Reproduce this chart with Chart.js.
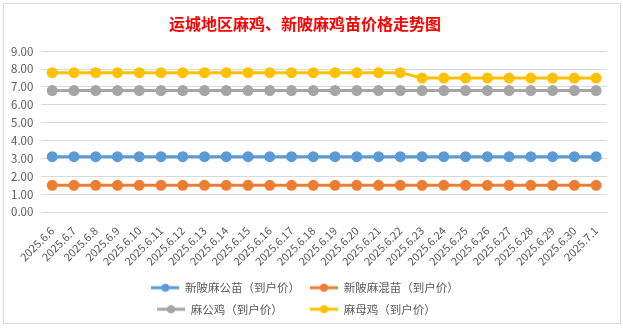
<!DOCTYPE html>
<html><head><meta charset="utf-8">
<script src="https://cdn.jsdelivr.net/npm/chart.js@4"></script>
<style>html,body{margin:0;padding:0;background:#fff;}#wrap{width:623px;height:330px;position:relative;}</style>
</head><body><div id="wrap"><canvas id="c" width="623" height="330"></canvas></div>
<script>
const categories = ["2025.6.6","2025.6.7","2025.6.8","2025.6.9","2025.6.10","2025.6.11","2025.6.12","2025.6.13","2025.6.14","2025.6.15","2025.6.16","2025.6.17","2025.6.18","2025.6.19","2025.6.20","2025.6.21","2025.6.22","2025.6.23","2025.6.24","2025.6.25","2025.6.26","2025.6.27","2025.6.28","2025.6.29","2025.6.30","2025.7.1"];
const seriesNames = ["新陂麻公苗（到户价）","新陂麻混苗（到户价）","麻公鸡（到户价）　　","麻母鸡（到户价）　　"];
const xinpiMaleChick = [3.1,3.1,3.1,3.1,3.1,3.1,3.1,3.1,3.1,3.1,3.1,3.1,3.1,3.1,3.1,3.1,3.1,3.1,3.1,3.1,3.1,3.1,3.1,3.1,3.1,3.1];
const xinpiMixedChick = [1.5,1.5,1.5,1.5,1.5,1.5,1.5,1.5,1.5,1.5,1.5,1.5,1.5,1.5,1.5,1.5,1.5,1.5,1.5,1.5,1.5,1.5,1.5,1.5,1.5,1.5];
const rooster = [6.8,6.8,6.8,6.8,6.8,6.8,6.8,6.8,6.8,6.8,6.8,6.8,6.8,6.8,6.8,6.8,6.8,6.8,6.8,6.8,6.8,6.8,6.8,6.8,6.8,6.8];
const hen = [7.8,7.8,7.8,7.8,7.8,7.8,7.8,7.8,7.8,7.8,7.8,7.8,7.8,7.8,7.8,7.8,7.8,7.5,7.5,7.5,7.5,7.5,7.5,7.5,7.5,7.5];
const yTicks = [0,1,2,3,4,5,6,7,8,9];

const colors = ["#5B9BD5","#ED7D31","#A5A5A5","#FFC000"];
const values = [xinpiMaleChick, xinpiMixedChick, rooster, hen];

function legendIcon(color){
  const c = document.createElement('canvas');
  c.width = 28; c.height = 10;
  const g = c.getContext('2d');
  g.strokeStyle = color; g.lineWidth = 3;
  g.beginPath(); g.moveTo(0,5); g.lineTo(28,5); g.stroke();
  g.fillStyle = color; g.beginPath(); g.arc(14,5,4,0,Math.PI*2); g.fill();
  return c;
}
const icons = colors.map(legendIcon);

const borderPlugin = {
  id:'outerBorder',
  beforeLayout(chart){
    const lg = chart.legend;
    if (lg && !lg._narrowed){
      const orig = lg.update.bind(lg);
      lg.update = (mw, mh, m) => orig(Math.min(mw, 340), mh, m);
      lg._narrowed = true;
    }
  },
  beforeDraw(chart){
    const ctx = chart.ctx;
    ctx.save();
    ctx.fillStyle = '#fff';
    ctx.fillRect(0,0,chart.width,chart.height);
    ctx.strokeStyle = '#d9d9d9'; ctx.lineWidth = 1;
    ctx.strokeRect(3.5,3.5,617,320);
    ctx.restore();
  }
};

const font = "'Noto Sans CJK SC', 'Noto Sans', sans-serif";
new Chart(document.getElementById('c'), {
  type:'line',
  data:{
    labels: categories,
    datasets: seriesNames.map((n,i)=>({
      label:n, data: values[i],
      borderColor: colors[i], backgroundColor: colors[i],
      pointBackgroundColor: colors[i], pointBorderColor: colors[i],
      borderWidth: 3, pointRadius: 4, pointHoverRadius: 4, tension: 0
    }))
  },
  options:{
    responsive:false, animation:false,
    layout:{padding:{left:3,right:16,top:6,bottom:5}},
    plugins:{
      title:{display:true, text:'运城地区麻鸡、新陂麻鸡苗价格走势图', color:'#FF0000',
        font:{family:font, size:16, weight:'bold'}, padding:{top:8,bottom:18}},
      legend:{position:'bottom',
        labels:{usePointStyle:true, pointStyleWidth:28, boxHeight:10, padding:10, color:'#595959',
          font:{family:font, size:11.5},
          generateLabels(chart){
            const items = Chart.defaults.plugins.legend.labels.generateLabels(chart);
            items.forEach((it)=>{ it.pointStyle = icons[it.datasetIndex]; });
            return items;
          }}},
      tooltip:{enabled:false}
    },
    scales:{
      x:{offset:true, grid:{display:false}, border:{color:'#d9d9d9'},
        ticks:{minRotation:45, maxRotation:45, autoSkip:false, color:'#595959', font:{family:font, size:11}, padding:4}},
      y:{min:0, max:9, border:{display:false},
        afterBuildTicks(axis){ axis.ticks = yTicks.map(v=>({value:v})); },
        grid:{color:'#d9d9d9', drawTicks:false},
        ticks:{color:'#595959', padding:8, font:{family:font, size:11.5}, callback:v=>v.toFixed(2)}}
    }
  },
  plugins:[borderPlugin]
});
</script></body></html>
